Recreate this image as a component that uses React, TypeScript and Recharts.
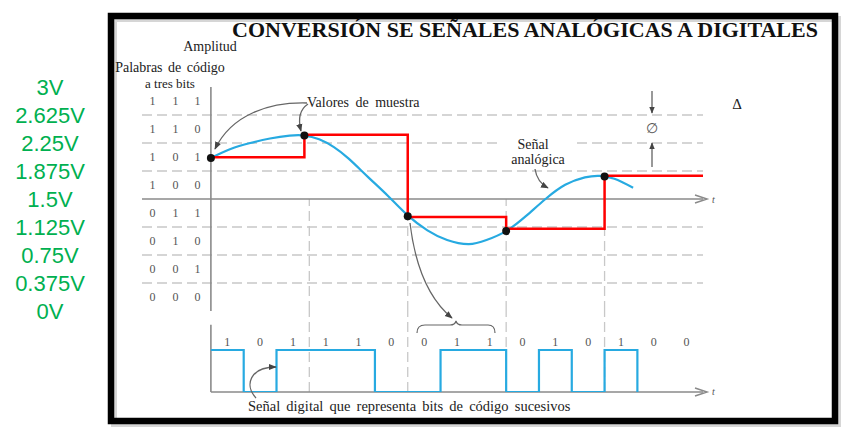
import React from 'react';
import { ComposedChart, Line, Scatter, XAxis, YAxis, ReferenceLine } from 'recharts';

// ---- data ----
const voltageTicks = [0, 0.375, 0.75, 1.125, 1.5, 1.875, 2.25, 2.625, 3];
const gridLevels = [0.375, 0.75, 1.125, 1.875, 2.25, 2.625];
const codeWords = ['000', '001', '010', '011', '100', '101', '110', '111'];
const analogT = [0, 0.2, 0.4, 0.6, 0.8, 0.95, 1.1, 1.25, 1.4, 1.6, 1.8, 2.0, 2.2, 2.4, 2.62, 2.8, 3.0, 3.2, 3.4, 3.6, 3.8, 3.95, 4.1, 4.29];
const analogV = [2.05, 2.17, 2.25, 2.31, 2.348, 2.35, 2.3, 2.195, 2.04, 1.79, 1.54, 1.28, 1.08, 0.95, 0.895, 0.95, 1.07, 1.27, 1.5, 1.69, 1.79, 1.81, 1.77, 1.65];
const sampleT = [0, 0.95, 2, 3, 4];
const sampleV = [2.05, 2.35, 1.27, 1.07, 1.8];
const heldT = [0, 0.95, 2, 3, 4, 5];
const heldV = [2.06, 2.36, 1.26, 1.1, 1.81, 1.81];
const sampleLines = [1, 2, 3, 4];
const bits = [1, 0, 1, 1, 1, 0, 0, 1, 1, 0, 1, 0, 1, 0, 0];
const lastDrawnBit = 12;

const analogData = analogT.map((t, i) => ({ t, v: analogV[i] }));
const sampleData = sampleT.map((t, i) => ({ t, v: sampleV[i] }));
const heldData = heldT.map((t, i) => ({ t, v: heldV[i] }));
const codeData = codeWords.map((code, k) => ({ t: -0.36, v: 0.1875 + 0.375 * k, code }));
const digitalData = [
  ...bits.slice(0, lastDrawnBit + 1).map((b, k) => ({ t: k / 3, v: b })),
  { t: (lastDrawnBit + 1) / 3, v: 0 },
];
const bitLabelData = bits.map((b, k) => ({ t: (k + 0.5) / 3, v: 1.19, bit: b }));

const SERIF = '"Liberation Serif", "Times New Roman", serif';
const GRAY = '#444';

const renderGreenTick = (props: any) => (
  <text x={50} y={props.y + 7.5} textAnchor="middle" fill="#00B050" fontSize={22}
    fontFamily='"Liberation Sans", Arial, sans-serif'>{`${props.payload.value}V`}</text>
);

const CodeShape = (props: any) => {
  const { cx, cy, payload } = props;
  const offs = [-23, 0, 22];
  return (
    <g>
      {payload.code.split('').map((c: string, i: number) => (
        <text key={i} x={cx + offs[i]} y={cy + 4} textAnchor="middle" fontSize={12}
          fill="#555" fontFamily={SERIF}>{c}</text>
      ))}
    </g>
  );
};

const DotShape = (props: any) => <circle cx={props.cx} cy={props.cy} r={4} fill="#111" />;

const BitShape = (props: any) => (
  <text x={props.cx} y={props.cy + 4} textAnchor="middle" fontSize={12} fill="#555"
    fontFamily={SERIF}>{props.payload.bit}</text>
);

export default function App() {
  return (
    <div style={{ position: 'absolute', left: 0, top: 0, width: 853, height: 441, background: '#fff' }}>
      {/* analog chart */}
      <div style={{ position: 'absolute', left: 0, top: 0 }}>
        <ComposedChart width={853} height={441} margin={{ top: 87, right: 150, bottom: 130, left: 82 }}>
          <XAxis type="number" dataKey="t" domain={[-0.7, 5]} allowDataOverflow hide />
          <YAxis type="number" dataKey="v" domain={[0, 3]} allowDataOverflow ticks={voltageTicks}
            interval={0} width={60} axisLine={false} tickLine={false} tick={renderGreenTick} />
          {gridLevels.map((g) => (
            <ReferenceLine key={g} y={g} stroke="#c8c8c8" strokeWidth={1.3} strokeDasharray="10 5" />
          ))}
          {sampleLines.map((s) => (
            <ReferenceLine key={s} segment={[{ x: s, y: 0 }, { x: s, y: 1.5 }]} stroke="#c8c8c8"
              strokeWidth={1.3} strokeDasharray="10 5" />
          ))}
          <ReferenceLine y={1.5} stroke="#8a8a8a" strokeWidth={1.6} />
          <ReferenceLine segment={[{ x: 0, y: 0 }, { x: 0, y: 3 }]} stroke="#8a8a8a" strokeWidth={1.6} />
          <Scatter data={codeData} shape={<CodeShape />} isAnimationActive={false} />
          <Line data={analogData} dataKey="v" type="natural" stroke="#27AAE1" strokeWidth={2.2}
            dot={false} isAnimationActive={false} />
          <Line data={heldData} dataKey="v" type="stepAfter" stroke="#FF0000" strokeWidth={2.5}
            dot={false} isAnimationActive={false} />
          <Scatter data={sampleData} shape={<DotShape />} isAnimationActive={false} />
        </ComposedChart>
      </div>
      {/* digital chart */}
      <div style={{ position: 'absolute', left: 0, top: 0 }}>
        <ComposedChart width={853} height={441} margin={{ top: 311, right: 150, bottom: 49, left: 142 }}>
          <XAxis type="number" dataKey="t" domain={[-0.7, 5]} allowDataOverflow hide />
          <YAxis type="number" dataKey="v" domain={[0, 81 / 42]} allowDataOverflow hide />
          {sampleLines.map((s) => (
            <ReferenceLine key={s} segment={[{ x: s, y: 0 }, { x: s, y: 81 / 42 }]} stroke="#c8c8c8"
              strokeWidth={1.3} strokeDasharray="10 5" />
          ))}
          <ReferenceLine segment={[{ x: 0, y: 0 }, { x: 5, y: 0 }]} stroke="#8a8a8a" strokeWidth={1.6} />
          <ReferenceLine segment={[{ x: 0, y: 0 }, { x: 0, y: 1.6 }]} stroke="#8a8a8a" strokeWidth={1.6} />
          <Line data={digitalData} dataKey="v" type="stepAfter" stroke="#27AAE1" strokeWidth={2.2}
            dot={false} isAnimationActive={false} />
          <Scatter data={bitLabelData} shape={<BitShape />} isAnimationActive={false} />
        </ComposedChart>
      </div>
      {/* figure decorations */}
      <svg width={853} height={441} style={{ position: 'absolute', left: 0, top: 0, pointerEvents: 'none' }}>
        <defs>
          <marker id="ah" viewBox="0 0 10 10" refX="9" refY="5" markerWidth="6" markerHeight="6" orient="auto">
            <path d="M0,1 L10,5 L0,9 z" fill={GRAY} />
          </marker>
        </defs>
        <rect x={114} y={19} width={724} height={405} fill="none" stroke="#bbb" strokeWidth={6} opacity={0.6} />
        <rect x={111} y={16} width={724} height={405} fill="none" stroke="#000" strokeWidth={6.5} />
        <text x={525} y={37} textAnchor="middle" fontSize={22} fontWeight="bold" fill="#111"
          fontFamily={SERIF}>CONVERSIÓN SE SEÑALES ANALÓGICAS A DIGITALES</text>
        <text x={210} y={51} textAnchor="middle" fontSize={14} fill="#222" fontFamily={SERIF}>Amplitud</text>
        <text x={170} y={72} textAnchor="middle" fontSize={14} fill="#222" fontFamily={SERIF} wordSpacing={2}>Palabras de código</text>
        <text x={170} y={88} textAnchor="middle" fontSize={13} fill="#222" fontFamily={SERIF}>a tres bits</text>
        <text x={307} y={107} fontSize={14} fill="#222" fontFamily={SERIF} wordSpacing={3}>Valores de muestra</text>
        <path d="M307,103 C270,102 232,114 215,149" fill="none" stroke="#666" strokeWidth={1.3} markerEnd="url(#ah)" />
        <path d="M308,104 Q296,112 301,131" fill="none" stroke="#666" strokeWidth={1.3} markerEnd="url(#ah)" />
        <rect x={500} y={135} width={76} height={30} fill="#fff" />
        <text x={533} y={149} textAnchor="middle" fontSize={14} fill="#222" fontFamily={SERIF}>Señal</text>
        <text x={538} y={164} textAnchor="middle" fontSize={14} fill="#222" fontFamily={SERIF}>analógica</text>
        <path d="M535,169 Q537,182 548,188" fill="none" stroke="#666" strokeWidth={1.3} markerEnd="url(#ah)" />
        <line x1={652} y1={91} x2={652} y2={113} stroke="#555" strokeWidth={1.2} markerEnd="url(#ah)" />
        <line x1={652} y1={167} x2={652} y2={143} stroke="#555" strokeWidth={1.2} markerEnd="url(#ah)" />
        <text x={652} y={133} textAnchor="middle" fontSize={14} fill="#555" fontFamily={SERIF}>∅</text>
        <text x={737} y={109} textAnchor="middle" fontSize={15} fill="#222" fontFamily={SERIF}>Δ</text>
        <path d="M695,195 L707,199 L695,203" fill="none" stroke="#8a8a8a" strokeWidth={1.5} />
        <text x={712} y={203} fontSize={10} fontStyle="italic" fill="#555" fontFamily={SERIF}>t</text>
        <path d="M695,388 L707,392 L695,396" fill="none" stroke="#8a8a8a" strokeWidth={1.5} />
        <text x={712} y={395} fontSize={10} fontStyle="italic" fill="#555" fontFamily={SERIF}>t</text>
        <path d="M410,223 Q418,290 452,318" fill="none" stroke="#666" strokeWidth={1.3} markerEnd="url(#ah)" />
        <path d="M417,333 Q417,325 425,325 L450,325 Q455,325 456,321 Q457,325 462,325 L488,325 Q495,325 495,333"
          fill="none" stroke="#666" strokeWidth={1.2} />
        <path d="M256,398 C244,385 250,367 276,367" fill="none" stroke="#666" strokeWidth={1.3} markerEnd="url(#ah)" />
        <text x={248} y={411} fontSize={14.5} fill="#222" fontFamily={SERIF} wordSpacing={2.5}>Señal digital que representa bits de código sucesivos</text>
      </svg>
    </div>
  );
}
